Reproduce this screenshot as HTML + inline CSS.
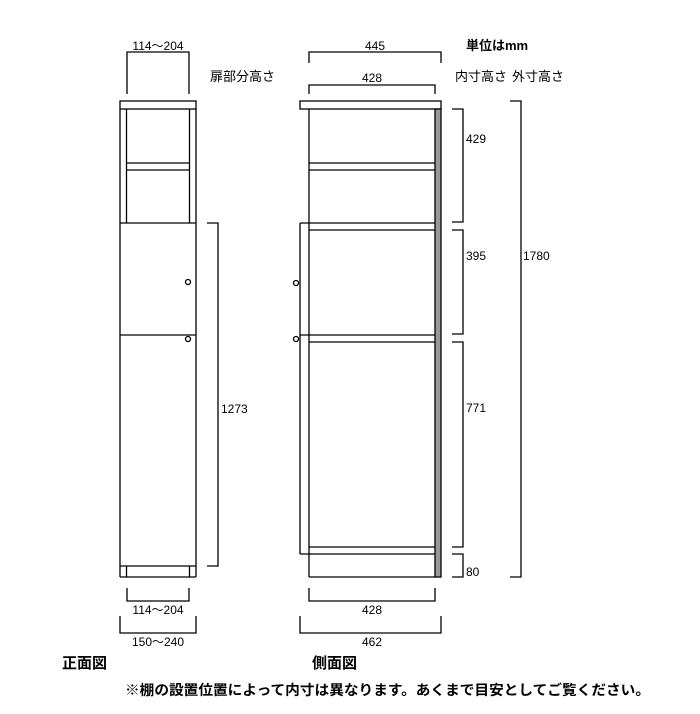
<!DOCTYPE html>
<html><head><meta charset="utf-8"><style>
html,body{margin:0;padding:0;background:#fff;}
svg{display:block;}
text{font-family:"Liberation Sans","Noto Sans CJK JP",sans-serif;fill:#000;}
</style></head><body>
<svg width="700" height="714" viewBox="0 0 700 714" xmlns="http://www.w3.org/2000/svg">
<g fill="none" stroke="#000" stroke-width="1.3">
<!-- FRONT -->
<rect x="120" y="101" width="76" height="8"/>
<line x1="120" y1="109" x2="120" y2="577"/>
<line x1="196" y1="109" x2="196" y2="577"/>
<line x1="126.5" y1="109" x2="126.5" y2="223"/>
<line x1="189.5" y1="109" x2="189.5" y2="223"/>
<line x1="126.5" y1="163" x2="189.5" y2="163"/>
<line x1="126.5" y1="170" x2="189.5" y2="170"/>
<line x1="120" y1="223" x2="196" y2="223"/>
<line x1="120" y1="335" x2="196" y2="335"/>
<line x1="120" y1="566" x2="196" y2="566"/>
<line x1="120" y1="577" x2="196" y2="577"/>
<line x1="126.5" y1="566" x2="126.5" y2="577"/>
<line x1="189.5" y1="566" x2="189.5" y2="577"/>
<circle cx="188" cy="282" r="2.5"/>
<circle cx="188" cy="339" r="2.5"/>
<!-- front dims -->
<polyline points="127,94 127,52 189,52 189,94"/>
<polyline points="207,223 218,223 218,566 207,566"/>
<polyline points="127,588 127,601 189,601 189,588"/>
<polyline points="120,616 120,633 196,633 196,616"/>
<!-- SIDE -->
<rect x="300" y="101" width="141" height="8"/>
<rect x="435" y="109" width="6" height="468" fill="#999"/>
<line x1="309" y1="109" x2="309" y2="577"/>
<line x1="309" y1="577" x2="435" y2="577"/>
<line x1="309" y1="163" x2="435" y2="163"/>
<line x1="309" y1="170" x2="435" y2="170"/>
<line x1="300" y1="223" x2="435" y2="223"/>
<line x1="309" y1="230" x2="435" y2="230"/>
<line x1="300" y1="335" x2="435" y2="335"/>
<line x1="309" y1="342" x2="435" y2="342"/>
<line x1="309" y1="547" x2="435" y2="547"/>
<line x1="300" y1="554" x2="435" y2="554"/>
<line x1="300" y1="223" x2="300" y2="554"/>
<circle cx="296" cy="283" r="2.5" fill="#fff"/>
<circle cx="296" cy="339" r="2.5" fill="#fff"/>
<!-- side dims -->
<polyline points="309,63 309,52 441,52 441,63"/>
<polyline points="309,94 309,85 435,85 435,94"/>
<polyline points="309,588 309,601 435,601 435,588"/>
<polyline points="300,616 300,633 441,633 441,616"/>
<polyline points="452,109 463,109 463,222 452,222"/>
<polyline points="452,230 463,230 463,334 452,334"/>
<polyline points="452,342 463,342 463,547 452,547"/>
<polyline points="452,554 463,554 463,577 452,577"/>
<polyline points="510,101 521,101 521,577 510,577"/>
</g>
<g font-size="12">
<text x="158" y="50" text-anchor="middle">114～204</text>
<text x="210" y="81" font-size="13">扉部分高さ</text>
<text x="221" y="413">1273</text>
<text x="158" y="614" text-anchor="middle">114～204</text>
<text x="158" y="646" text-anchor="middle">150～240</text>
<text x="375" y="50" text-anchor="middle">445</text>
<text x="372" y="82" text-anchor="middle">428</text>
<text x="372" y="614" text-anchor="middle">428</text>
<text x="372" y="646" text-anchor="middle">462</text>
<text x="466" y="143">429</text>
<text x="466" y="260">395</text>
<text x="466" y="412">771</text>
<text x="466" y="576">80</text>
<text x="523" y="260">1780</text>
<text x="466" y="50" font-weight="bold" font-size="13">単位はmm</text>
<text x="455" y="81" font-size="13">内寸高さ</text>
<text x="512" y="81" font-size="13">外寸高さ</text>
</g>
<text x="62" y="668" font-size="15" font-weight="bold">正面図</text>
<text x="312" y="668" font-size="15" font-weight="bold">側面図</text>
<text x="125" y="695" font-size="14" font-weight="bold" textLength="525" lengthAdjust="spacingAndGlyphs">※棚の設置位置によって内寸は異なります。あくまで目安としてご覧ください。</text>
</svg>
</body></html>
